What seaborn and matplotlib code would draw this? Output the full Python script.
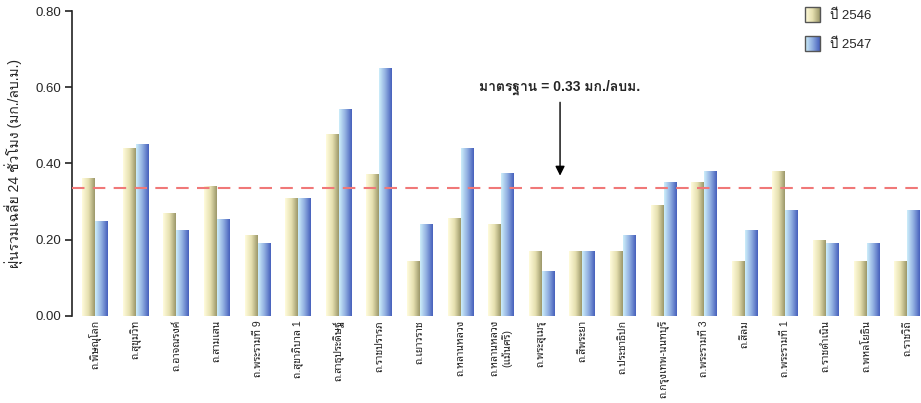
import numpy as np
import pandas as pd
import seaborn as sns
import matplotlib
matplotlib.use("Agg")
import matplotlib.pyplot as plt
from matplotlib.colors import LinearSegmentedColormap
from matplotlib.legend_handler import HandlerBase
from matplotlib.patches import Rectangle
from matplotlib.image import BboxImage
from matplotlib.transforms import Bbox, TransformedBbox

# data
roads = ["ถ.พิษณุโลก", "ถ.สุขุมวิท", "ถ.อาจณรงค์", "ถ.สามเสน", "ถ.พระรามที่ 9",
         "ถ.สุขาภิบาล 1", "ถ.สาธุประดิษฐ์", "ถ.ราชปรารภ", "ถ.เยาวราช", "ถ.หลานหลวง",
         "ถ.หลานหลวง\n(แม้นศรี)", "ถ.พระสุเมรุ", "ถ.สี่พระยา", "ถ.ประชาธิปก",
         "ถ.กรุงเทพ-นนทบุรี", "ถ.พระรามที่ 3", "ถ.สีลม", "ถ.พระรามที่ 1",
         "ถ.ราชดำเนิน", "ถ.พหลโยธิน", "ถ.ราชวิถี"]
dust_2546 = [0.36, 0.44, 0.27, 0.34, 0.21, 0.307, 0.477, 0.37, 0.142, 0.257, 0.241,
             0.17, 0.17, 0.17, 0.291, 0.349, 0.144, 0.378, 0.199, 0.142, 0.142]
dust_2547 = [0.249, 0.449, 0.223, 0.252, 0.191, 0.307, 0.543, 0.648, 0.241, 0.44, 0.375,
             0.118, 0.17, 0.21, 0.351, 0.38, 0.223, 0.278, 0.191, 0.191, 0.278]
years = ["ปี 2546", "ปี 2547"]
standard_line = 0.336  # where the dashed standard line sits in the picture

df = pd.DataFrame({
    "road": roads * 2,
    "value": dust_2546 + dust_2547,
    "year": [years[0]] * len(roads) + [years[1]] * len(roads),
})

sns.set_theme(style="white")
plt.rcParams["font.family"] = ["Liberation Sans", "Loma"]
thai_small = ["Liberation Sans", "Noto Sans Thai Looped"]

cmap_y = LinearSegmentedColormap.from_list("y", ["#fffbdc", "#e6e0b0", "#9c986a"])
cmap_b = LinearSegmentedColormap.from_list("b", ["#cdeefa", "#90aee0", "#4660bc"])
grad = np.linspace(0, 1, 64).reshape(1, -1)


class GradHandler(HandlerBase):
    def __init__(self, cmap):
        super().__init__()
        self.cmap = cmap

    def create_artists(self, legend, orig_handle, xdescent, ydescent, width, height, fontsize, trans):
        bb = TransformedBbox(Bbox.from_bounds(-xdescent, -ydescent, width, height), trans)
        img = BboxImage(bb, cmap=self.cmap, interpolation="bilinear")
        img.set_data(grad)
        rect = Rectangle((-xdescent, -ydescent), width, height, fc="none", ec="#555555", lw=1.0,
                         transform=trans)
        return [img, rect]


fig = plt.figure(figsize=(9.21, 4.03), dpi=100)
ax = fig.add_axes([0.0782, 0.216, 0.9218, 0.7567])

sns.barplot(data=df, x="road", y="value", hue="year", palette=["#e6e0b0", "#90aee0"],
            width=0.64, gap=0, legend=False, ax=ax)

# swap flat bars for horizontal gradients
for cont, cm in zip(ax.containers, [cmap_y, cmap_b]):
    for bar in cont:
        x0, y0 = bar.get_x(), bar.get_y()
        w, h = bar.get_width(), bar.get_height()
        ax.imshow(grad, cmap=cm, extent=(x0, x0 + w, y0, y0 + h), aspect="auto",
                  origin="lower", interpolation="bilinear", zorder=2)
        bar.set_visible(False)

ax.set_xlim(-0.57, 20.34)
ax.set_ylim(0, 0.8)
ax.set_yticks(np.arange(0, 0.81, 0.2))
ax.set_yticklabels([f"{v:.2f}" for v in np.arange(0, 0.81, 0.2)], fontsize=9.5)
ax.set_xticks(range(len(roads)))
ax.set_xticklabels(roads, rotation=90, fontsize=7.5, va="top", ha="center",
                   multialignment="center", family=thai_small)
ax.tick_params(axis="x", length=0, pad=3)
ax.tick_params(axis="y", direction="out", length=5, width=1.2, color="#222222", pad=3, left=True)

sns.despine(ax=ax, bottom=True)
ax.spines["left"].set_color("#222222")
ax.spines["left"].set_linewidth(1.2)

ax.set_xlabel("")
ax.set_ylabel("ฝุ่นรวมเฉลี่ย 24 ชั่วโมง (มก./ลบ.ม.)", fontsize=10, labelpad=8)

ax.axhline(standard_line, color="#f07878", lw=1.5, ls=(0, (6, 4)), zorder=3)

ax.annotate("มาตรฐาน = 0.33 มก./ลบม.", xy=(11.45, 0.368), xytext=(11.45, 0.60),
            ha="center", va="center", fontsize=10, fontweight="bold",
            arrowprops=dict(arrowstyle="-|>", color="black", lw=1, mutation_scale=14,
                            shrinkA=3, shrinkB=0))

handles = [Rectangle((0, 0), 1, 1), Rectangle((0, 0), 1, 1)]
ax.legend(handles, years, handler_map={handles[0]: GradHandler(cmap_y), handles[1]: GradHandler(cmap_b)},
          loc="upper left", bbox_to_anchor=(805 / 921, 1 - 7 / 403), bbox_transform=fig.transFigure,
          frameon=False, fontsize=9.5, handlelength=1.1, handleheight=1.35, handletextpad=0.8,
          labelspacing=1.1, borderaxespad=0, borderpad=0)

fig.savefig("out.png", dpi=100)
